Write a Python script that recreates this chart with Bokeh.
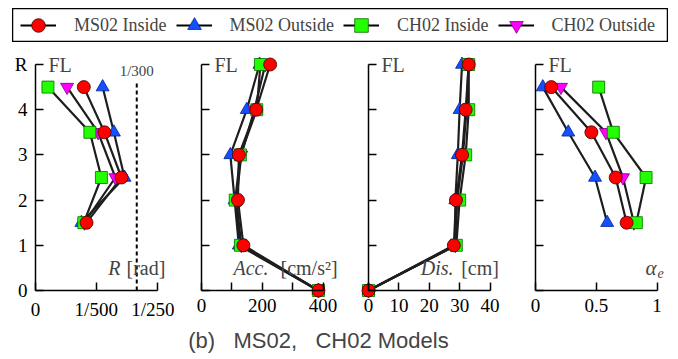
from bokeh.plotting import figure
from bokeh.models import Range1d, LinearAxis, FixedTicker, Label, Legend, LegendItem
from bokeh.layouts import column, row
from bokeh.embed import file_html
from bokeh.resources import INLINE

# ---------------- data ----------------
floors_mid = [1.5, 2.5, 3.5, 4.5]          # story mid-heights (drift / alpha)
floors = [0, 1, 2, 3, 4, 5]                 # floor levels (acc / disp)
y_ticks = [0, 1, 2, 3, 4, 5]

series_names = ["MS02 Inside", "MS02 Outside", "CH02 Inside", "CH02 Outside"]

R_ms02_in = [0.00168, 0.00283, 0.00227, 0.00159]
R_ms02_out = [0.00151, 0.00293, 0.00258, 0.00221]
R_ch02_in = [0.00159, 0.00217, 0.00179, 0.00041]
R_ch02_out = [0.00161, 0.00263, 0.00206, 0.00104]
R_limit = 1 / 300

acc_ms02_in = [385, 138, 120, 123, 180, 226]
acc_ms02_out = [385, 123, 109, 95, 149, 191]
acc_ch02_in = [385, 128, 111, 128, 182, 194]
acc_ch02_out = [385, 131, 115, 131, 174, 210]

dis_ms02_in = [0, 28.1, 28.8, 30.8, 32.0, 33.0]
dis_ms02_out = [0, 28.7, 28.6, 29.4, 30.0, 30.8]
dis_ch02_in = [0, 28.9, 30.0, 32.0, 33.0, 33.0]
dis_ch02_out = [0, 28.6, 29.2, 31.1, 32.3, 32.9]

ae_ms02_in = [0.75, 0.66, 0.46, 0.13]
ae_ms02_out = [0.59, 0.49, 0.27, 0.06]
ae_ch02_in = [0.83, 0.91, 0.64, 0.52]
ae_ch02_out = [0.81, 0.72, 0.58, 0.21]

R_ticks = [0, 0.002, 0.004]
R_tick_labels = ["0", "1/500", "1/250"]
acc_ticks = [0, 200, 400]
acc_minor = [100, 300]
dis_ticks = [0, 10, 20, 30, 40]
ae_ticks = [0, 0.5, 1]
ae_tick_labels = ["0", "0.5", "1"]

# ---------------- styles ----------------
STY = {
    "MS02 Inside": dict(marker="circle", fill_color="#ff0000", line_color="#3a0000", size=13),
    "MS02 Outside": dict(marker="triangle", fill_color="#1450ff", line_color="#002290", size=13),
    "CH02 Inside": dict(marker="square", fill_color="#22ff00", line_color="#0a6a00", size=12),
    "CH02 Outside": dict(marker="inverted_triangle", fill_color="#ff00ff", line_color="#7a007a", size=13),
}
DRAW_ORDER = ["MS02 Outside", "CH02 Outside", "CH02 Inside", "MS02 Inside"]
LINE_COLOR = "#1e1e1e"
SERIF = "Liberation Serif"

AXPX = 121.5      # px length of each x axis
SY = 45.2         # px per floor unit
LEFT = 27         # px from figure left to y axis
PH = 280          # panel figure height
BOT = 32          # px from figure bottom to y=0


def make_panel(width, xmax, ys, data, xticks, xlabels, minor, first):
    s = AXPX / xmax
    p = figure(width=width, height=PH,
               x_range=Range1d(-LEFT / s, (width - LEFT) / s),
               y_range=Range1d(-BOT / SY, (PH - BOT) / SY),
               x_axis_location=None, y_axis_location=None,
               toolbar_location=None, output_backend="svg",
               min_border=0, outline_line_color=None)
    p.xgrid.visible = False
    p.ygrid.visible = False

    xa = LinearAxis(fixed_location=0, bounds=(0, xmax),
                    ticker=FixedTicker(ticks=xticks, minor_ticks=minor))
    if xlabels is not None:
        xa.major_label_overrides = {t: l for t, l in zip(xticks, xlabels)}
    ya = LinearAxis(fixed_location=0, bounds=(0, 5),
                    ticker=FixedTicker(ticks=y_ticks, minor_ticks=[]))
    if first:
        ya.major_label_overrides = {5: "R"}
    else:
        ya.major_label_overrides = {t: "" for t in y_ticks}
    for ax in (xa, ya):
        ax.axis_line_width = 1.5
        ax.major_tick_line_width = 1.5
        ax.minor_tick_line_width = 1.5
        ax.major_tick_in = 8
        ax.major_tick_out = 0
        ax.minor_tick_in = 8
        ax.minor_tick_out = 0
        ax.major_label_text_font = SERIF
        ax.major_label_text_font_size = "19px"
        ax.major_label_text_color = "black"
        ax.major_label_standoff = 8
    p.add_layout(xa, "below")
    p.add_layout(ya, "left")

    for name in series_names:
        p.line(data[name], ys, line_color=LINE_COLOR, line_width=2.2)
    for name in DRAW_ORDER:
        st = STY[name]
        p.scatter(data[name], ys, marker=st["marker"], size=st["size"],
                  fill_color=st["fill_color"], line_color=st["line_color"],
                  line_width=0.8)

    p.add_layout(Label(x=0, y=5, x_offset=13, text="FL", text_baseline="middle",
                       text_font=SERIF, text_font_size="20px"))
    return p


R_data = dict(zip(series_names, [R_ms02_in, R_ms02_out, R_ch02_in, R_ch02_out]))
p1 = make_panel(166, 0.004, floors_mid, R_data, R_ticks, R_tick_labels, [], True)
p2 = make_panel(167, 400, floors,
                dict(zip(series_names, [acc_ms02_in, acc_ms02_out, acc_ch02_in, acc_ch02_out])),
                acc_ticks, None, acc_minor, False)
p3 = make_panel(167, 40, floors,
                dict(zip(series_names, [dis_ms02_in, dis_ms02_out, dis_ch02_in, dis_ch02_out])),
                dis_ticks, None, [], False)
p4 = make_panel(162, 1, floors_mid,
                dict(zip(series_names, [ae_ms02_in, ae_ms02_out, ae_ch02_in, ae_ch02_out])),
                ae_ticks, ae_tick_labels, [], False)

# 1/300 limit line
p1.line([R_limit, R_limit], [0, 4.58], line_color="black", line_width=2, line_dash="4 3")
p1.add_layout(Label(x=R_limit, y=4.69, text="1/300", text_align="center",
                    text_font=SERIF, text_font_size="15px"))


def axis_title(p, xmax, italic, rest, it_off, rest_off, size="20px"):
    p.add_layout(Label(x=xmax, y=0.5, x_offset=it_off, text=italic, text_align="right",
                       text_baseline="middle", text_font=SERIF, text_font_size=size,
                       text_font_style="italic"))
    p.add_layout(Label(x=xmax, y=0.5, x_offset=rest_off, text=rest, text_align="left",
                       text_baseline="middle", text_font=SERIF, text_font_size=size))


axis_title(p1, 0.004, "R", "[rad]", -36.5, -30.5)
axis_title(p2, 400, "Acc.", "[cm/s\u00b2]", -54.5, -42.5)
axis_title(p3, 40, "Dis.", "[cm]", -36.5, -28.8)
p4.add_layout(Label(x=1, y=0.5, x_offset=-0.5, text="\u03b1", text_align="right",
                    text_baseline="middle", text_font=SERIF, text_font_size="21px",
                    text_font_style="italic"))
p4.add_layout(Label(x=1, y=0.5, x_offset=0.5, y_offset=-5, text="e", text_align="left",
                    text_baseline="middle", text_font=SERIF, text_font_size="14px",
                    text_font_style="italic"))

# ---------------- legend ----------------
# the legend figure looks at a window far away from the data, so only the key shows
leg = figure(width=656, height=34, x_range=Range1d(10, 11), y_range=Range1d(10, 11),
             x_axis_location=None, y_axis_location=None, toolbar_location=None,
             output_backend="svg", min_border=0, outline_line_color="black",
             outline_line_width=1.5, margin=(0, 0, 0, 4))
leg.xgrid.visible = False
leg.ygrid.visible = False
items = []
for name in series_names:
    st = STY[name]
    lr = leg.line(x=R_data[name], y=floors_mid, line_color="black", line_width=2)
    sr = leg.scatter(x=R_data[name], y=floors_mid, marker=st["marker"], size=st["size"],
                     fill_color=st["fill_color"], line_color=st["line_color"], line_width=0.8)
    items.append(LegendItem(label=name, renderers=[lr, sr]))
legend = Legend(items=items, orientation="horizontal", location="center_left",
                margin=8, padding=0, spacing=9, glyph_width=36, glyph_height=34,
                label_standoff=18, label_text_font=SERIF, label_text_font_size="18px",
                border_line_color=None, background_fill_alpha=0)
leg.add_layout(legend)

# ---------------- caption ----------------
CAP_H = 37
cap = figure(width=662, height=CAP_H, x_range=Range1d(0, 662), y_range=Range1d(0, CAP_H),
             x_axis_location=None, y_axis_location=None, toolbar_location=None,
             output_backend="svg", min_border=0, outline_line_color=None)
cap.xgrid.visible = False
cap.ygrid.visible = False
cap.add_layout(Label(x=310, y=CAP_H - 18, text="(b)\u00a0\u00a0\u00a0MS02,\u00a0\u00a0\u00a0CH02 Models",
                     text_align="center", text_baseline="middle",
                     text_font="Liberation Sans", text_font_size="22px"))

layout = column(leg, row(p1, p2, p3, p4), cap, margin=(8, 0, 0, 8))
open("out.html", "w").write(file_html(layout, INLINE))
